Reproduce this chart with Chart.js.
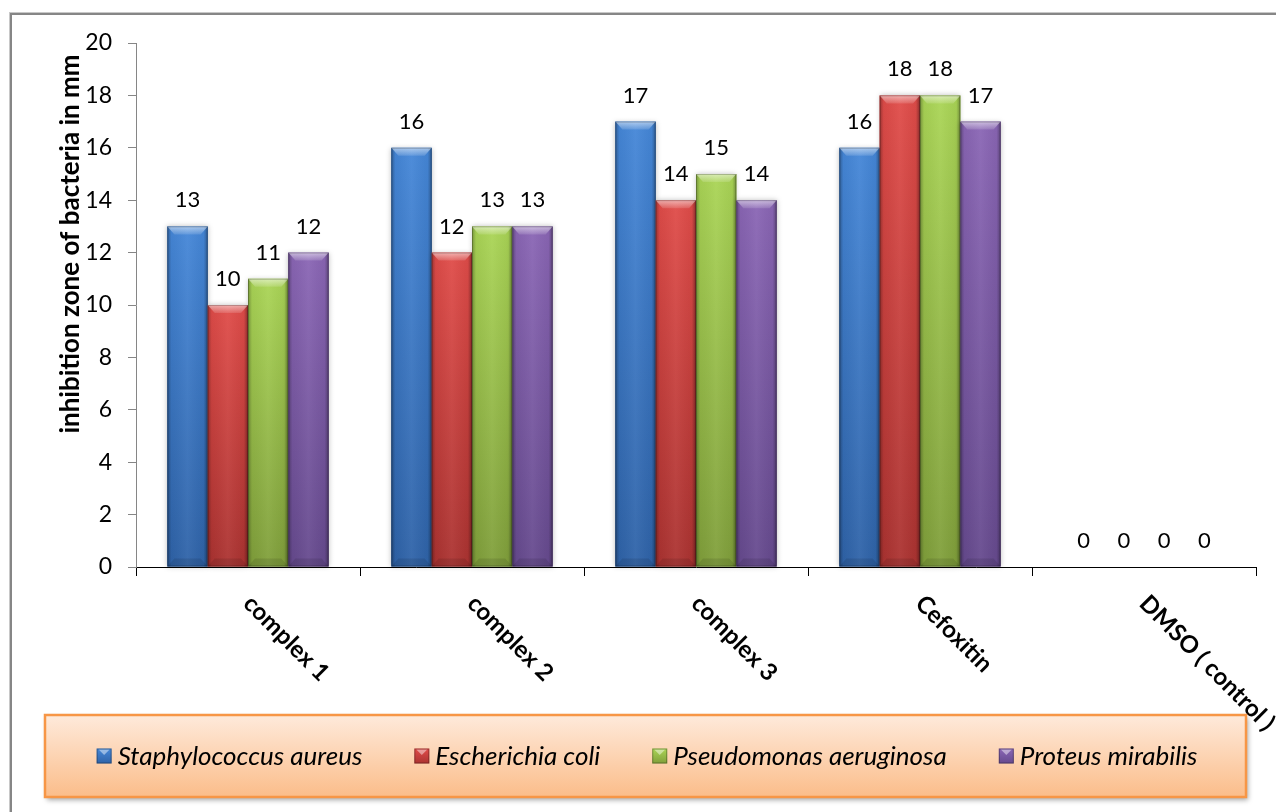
<!DOCTYPE html>
<html>
<head>
<meta charset="utf-8">
<script src="https://cdn.jsdelivr.net/npm/chart.js@4.4.1/dist/chart.umd.min.js"></script>
<style>
  html, body { margin: 0; padding: 0; background: #fff; }
  #wrap { width: 1276px; height: 812px; }
</style>
</head>
<body>
<div id="wrap"><canvas id="chart" width="1276" height="812"></canvas></div>
<script>
//categories along the x axis
const categories = ["complex 1", "complex 2", "complex 3", "Cefoxitin", "DMSO ( control )"];
//one series per bacterium
const seriesNames = ["Staphylococcus aureus", "Escherichia coli", "Pseudomonas aeruginosa", "Proteus mirabilis"];
//inhibition zone in mm
const staphValues = [13, 16, 17, 16, 0];
const ecoliValues = [10, 12, 14, 18, 0];
const pseudoValues = [11, 13, 15, 18, 0];
const proteusValues = [12, 13, 14, 17, 0];
//y axis
const yMin = 0;
const yMax = 20;
const yStep = 2;
const yTitle = "inhibition zone of bacteria in mm";

//bar colours: flat, light top, dark bottom
const barColors = ["#3c7bcc", "#d43f3c", "#9bc64b", "#7e5ca8"];
const barLight = ["#4587d8", "#e04c49", "#aad556", "#8a66b5"];
const barDark = ["#2f63a8", "#ab3331", "#809f3b", "#664a8e"];

const FONT = "Lato, 'Open Sans', sans-serif";

//white page + grey frame
const framePlugin = {
  id: "frame",
  beforeDraw(chart) {
    const ctx = chart.ctx;
    ctx.save();
    ctx.fillStyle = "#fff";
    ctx.fillRect(0, 0, chart.width, chart.height);
    ctx.strokeStyle = "#c8c8c8";
    ctx.lineWidth = 1;
    ctx.strokeRect(9.5, 12.5, chart.width + 40, chart.height + 40);
    ctx.strokeStyle = "#868686";
    ctx.lineWidth = 2;
    ctx.strokeRect(11, 14, chart.width + 40, chart.height + 40);
    ctx.restore();
  }
};

//3d look on top of the library's bars
const shadePlugin = {
  id: "shade",
  afterDatasetsDraw(chart) {
    const ctx = chart.ctx;
    chart.data.datasets.forEach((ds, di) => {
      chart.getDatasetMeta(di).data.forEach(bar => {
        const p = bar.getProps(["x", "y", "base", "width"], true);
        const h = p.base - p.y;
        if (h < 1) return;
        const x0 = p.x - p.width / 2, x1 = p.x + p.width / 2, w = p.width;
        ctx.save();
        ctx.shadowColor = "rgba(0,0,0,0.25)";
        ctx.shadowBlur = 5;
        let g = ctx.createLinearGradient(0, p.y, 0, p.base);
        g.addColorStop(0, barLight[di]);
        g.addColorStop(1, barDark[di]);
        ctx.fillStyle = g;
        ctx.fillRect(x0, p.y, w, h);
        ctx.shadowColor = "transparent";
        //darker sides
        g = ctx.createLinearGradient(x0, 0, x1, 0);
        g.addColorStop(0, "rgba(0,0,0,0.30)");
        g.addColorStop(0.1, "rgba(0,0,0,0.04)");
        g.addColorStop(0.5, "rgba(255,255,255,0.05)");
        g.addColorStop(0.9, "rgba(0,0,0,0.04)");
        g.addColorStop(1, "rgba(0,0,0,0.32)");
        ctx.fillStyle = g;
        ctx.fillRect(x0, p.y, w, h);
        //top bevel
        const b = Math.min(8, h / 2);
        ctx.beginPath();
        ctx.moveTo(x0, p.y);
        ctx.lineTo(x1, p.y);
        ctx.lineTo(x1 - 7, p.y + b);
        ctx.lineTo(x0 + 7, p.y + b);
        ctx.closePath();
        g = ctx.createLinearGradient(0, p.y, 0, p.y + b);
        g.addColorStop(0, "rgba(255,255,255,0.55)");
        g.addColorStop(1, "rgba(255,255,255,0.12)");
        ctx.fillStyle = g;
        ctx.fill();
        //bottom bevel
        ctx.beginPath();
        ctx.moveTo(x0, p.base);
        ctx.lineTo(x1, p.base);
        ctx.lineTo(x1 - 7, p.base - b);
        ctx.lineTo(x0 + 7, p.base - b);
        ctx.closePath();
        ctx.fillStyle = "rgba(0,0,0,0.10)";
        ctx.fill();
        ctx.strokeStyle = "rgba(0,0,0,0.22)";
        ctx.lineWidth = 1;
        ctx.strokeRect(x0 + 0.5, p.y + 0.5, w - 1, h - 1);
        ctx.restore();
      });
    });
  }
};

//value labels, rotated category labels, y title, legend box
const textPlugin = {
  id: "texts",
  afterDraw(chart) {
    const ctx = chart.ctx;
    const xs = chart.scales.x;
    ctx.save();
    //values above bars
    ctx.fillStyle = "#000";
    ctx.font = "22px " + FONT;
    ctx.textAlign = "center";
    ctx.textBaseline = "middle";
    chart.data.datasets.forEach((ds, di) => {
      chart.getDatasetMeta(di).data.forEach((bar, i) => {
        ctx.fillText(String(ds.data[i]), bar.x, bar.y - 26);
      });
    });
    //category labels at 45 degrees
    ctx.font = "bold 24px " + FONT;
    ctx.textAlign = "left";
    ctx.textBaseline = "alphabetic";
    categories.forEach((c, i) => {
      const cx = xs.getPixelForValue(i);
      ctx.save();
      ctx.translate(cx - 6, xs.top + 38);
      ctx.rotate(Math.PI / 4);
      ctx.fillText(c, 0, 0);
      ctx.restore();
    });
    //y title
    ctx.save();
    ctx.font = "bold 26px " + FONT;
    ctx.textAlign = "center";
    ctx.textBaseline = "middle";
    ctx.translate(71, 244);
    ctx.rotate(-Math.PI / 2);
    ctx.fillText(yTitle, 0, 0);
    ctx.restore();

    //legend box
    const bx = 45, by = 715, bw = 1201, bh = 82;
    ctx.save();
    ctx.shadowColor = "rgba(0,0,0,0.35)";
    ctx.shadowBlur = 5;
    ctx.shadowOffsetX = 2;
    ctx.shadowOffsetY = 3;
    let g = ctx.createLinearGradient(0, by, 0, by + bh);
    g.addColorStop(0, "#feeadb");
    g.addColorStop(1, "#fbbd8a");
    ctx.fillStyle = g;
    ctx.fillRect(bx, by, bw, bh);
    ctx.restore();
    ctx.strokeStyle = "#f79646";
    ctx.lineWidth = 2.5;
    ctx.strokeRect(bx, by, bw, bh);

    ctx.font = "italic 26px " + FONT;
    ctx.textAlign = "left";
    ctx.textBaseline = "middle";
    const sq = 15, gapTxt = 6, gapItem = 52;
    const widths = seriesNames.map(n => ctx.measureText(n).width);
    let total = widths.reduce((a, b) => a + b, 0) + seriesNames.length * (sq + gapTxt) + (seriesNames.length - 1) * gapItem;
    let x = 647 - total / 2;
    const cy = 756;
    seriesNames.forEach((n, i) => {
      g = ctx.createLinearGradient(0, cy - sq / 2, 0, cy + sq / 2);
      g.addColorStop(0, barLight[i]);
      g.addColorStop(1, barDark[i]);
      ctx.fillStyle = g;
      ctx.fillRect(x, cy - sq / 2, sq, sq);
      ctx.fillStyle = "rgba(255,255,255,0.45)";
      ctx.beginPath();
      ctx.moveTo(x + 2, cy - sq / 2 + 1);
      ctx.lineTo(x + sq - 2, cy - sq / 2 + 1);
      ctx.lineTo(x + sq / 2, cy - 1);
      ctx.closePath();
      ctx.fill();
      ctx.strokeStyle = "rgba(0,0,0,0.3)";
      ctx.lineWidth = 1;
      ctx.strokeRect(x + 0.5, cy - sq / 2 + 0.5, sq - 1, sq - 1);
      ctx.fillStyle = "#000";
      ctx.fillText(n, x + sq + gapTxt, cy + 1);
      x += sq + gapTxt + widths[i] + gapItem;
    });
    ctx.restore();
  }
};

const allValues = [staphValues, ecoliValues, pseudoValues, proteusValues];

const chart = new Chart(document.getElementById("chart"), {
  type: "bar",
  plugins: [framePlugin, shadePlugin, textPlugin],
  data: {
    labels: categories,
    datasets: seriesNames.map((name, i) => ({
      label: name,
      data: allValues[i],
      backgroundColor: barColors[i],
      borderWidth: 0,
      categoryPercentage: 0.72,
      barPercentage: 1
    }))
  },
  options: {
    responsive: false,
    animation: false,
    layout: { padding: { left: 0, top: 43, right: 20, bottom: 0 } },
    plugins: {
      legend: { display: false },
      tooltip: { enabled: false }
    },
    scales: {
      x: {
        offset: true,
        grid: { drawOnChartArea: false, drawTicks: true, tickLength: 9, color: "#000", offset: true },
        border: { color: "#000", width: 1 },
        ticks: { display: false },
        afterFit(scale) { scale.height = 812 - 567; }
      },
      y: {
        min: yMin,
        max: yMax,
        ticks: {
          stepSize: yStep,
          padding: 16,
          color: "#000",
          font: { family: FONT, size: 23 }
        },
        grid: { drawOnChartArea: false, drawTicks: true, tickLength: 8, color: "#868686" },
        border: { color: "#868686", width: 1 },
        afterFit(scale) { scale.width = 136; }
      }
    }
  }
});
</script>
</body>
</html>
